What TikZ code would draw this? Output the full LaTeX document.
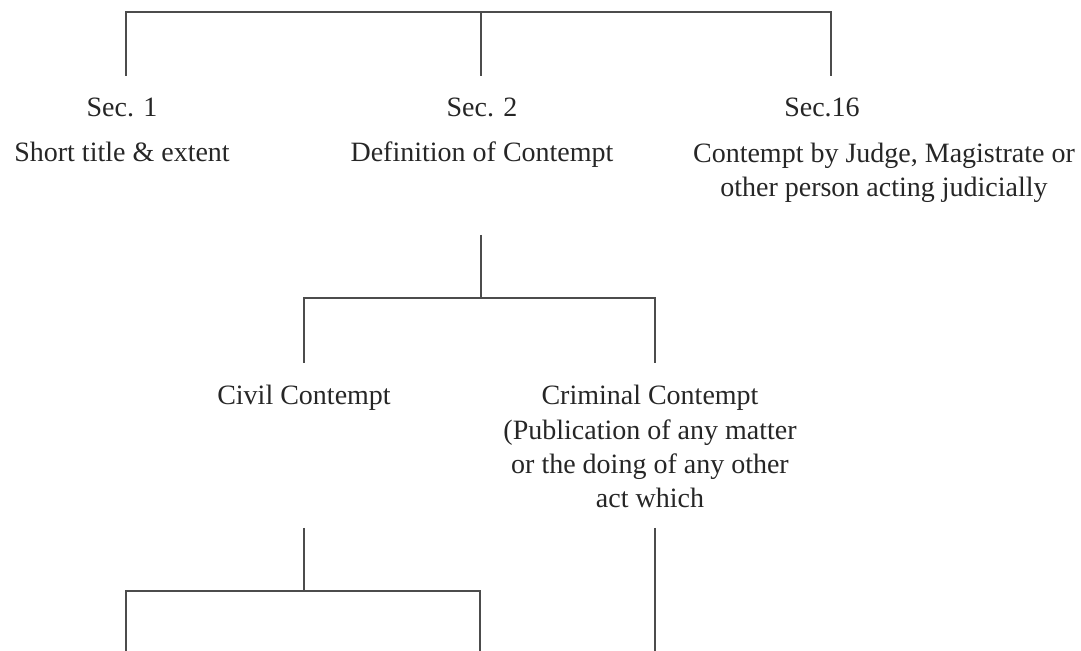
\documentclass[tikz,border=0pt]{standalone}
\usepackage{fontspec}
\setmainfont{Liberation Serif}
\begin{document}
\begin{tikzpicture}[x=0.5pt, y=-0.5pt]

	\tikzstyle{label_text} = [font=\fontsize{14}{17.2}\selectfont, text=black!85, inner sep=0pt, anchor=base, align=center]
	\tikzstyle{tree_line} = [draw=black!70, line width=0.7pt]

	\useasboundingbox (0,0) rectangle (1081,651);

%------------------------------------------------------------
	\coordinate (r0) at (126,12);
	\coordinate (r1) at (481,12);
	\coordinate (r2) at (831,12);
	\coordinate (d0) at (126,76);
	\coordinate (d1) at (481,76);
	\coordinate (d2) at (831,76);

	\path[tree_line] (d0) -- (r0) -- (r2) -- (d2);
	\path[tree_line] (r1) -- (d1);

	\node[label_text] (sec1)  at (122,117) {Sec. 1};
	\node[label_text] (sec2)  at (482,117) {Sec. 2};
	\node[label_text] (sec16) at (822,117) {Sec.16};

	% base of a two line node is its last line
	\node[label_text] (title)  at (122,162) {Short title \& extent};
	\node[label_text] (define) at (482,162) {Definition of Contempt};
	\node[label_text] (judge)  at (884,196.5) {Contempt by Judge, Magistrate or\\other person acting judicially};

%------------------------------------------------------------
	\coordinate (c_top) at (481,235);
	\coordinate (c_mid) at (481,298);
	\coordinate (c_l)   at (304,298);
	\coordinate (c_r)   at (655,298);
	\coordinate (c_ld)  at (304,363);
	\coordinate (c_rd)  at (655,363);

	\path[tree_line] (c_top) -- (c_mid);
	\path[tree_line] (c_ld) -- (c_l) -- (c_r) -- (c_rd);

	\node[label_text] (civil)    at (304,405) {Civil Contempt};
	\node[label_text] (criminal) at (650,508) {Criminal Contempt\\(Publication of any matter\\or the doing of any other\\act which};

%------------------------------------------------------------
	\coordinate (e_top) at (304,528);
	\coordinate (e_mid) at (304,591);
	\coordinate (e_l)   at (126,591);
	\coordinate (e_r)   at (480,591);
	\coordinate (e_ld)  at (126,651);
	\coordinate (e_rd)  at (480,651);

	\path[tree_line] (e_top) -- (e_mid);
	\path[tree_line] (e_ld) -- (e_l) -- (e_r) -- (e_rd);

	\coordinate (f_top) at (655,528);
	\coordinate (f_bot) at (655,651);

	\path[tree_line] (f_top) -- (f_bot);

\end{tikzpicture}
\end{document}
